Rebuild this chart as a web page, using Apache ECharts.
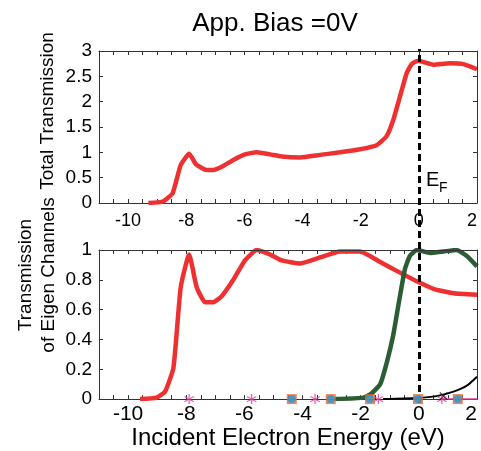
<!DOCTYPE html>
<html>
<head>
<meta charset="utf-8">
<script src="https://cdn.jsdelivr.net/npm/echarts@6/dist/echarts.min.js"></script>
<style>
    html, body { margin: 0; padding: 0; background: #fff; }
    #main { width: 481px; height: 451px; }
</style>
</head>
<body>
<div id="main"></div>
<script>
    // total transmission (top panel)
    var totalE = [-9.3, -8.8, -8.47, -8.19, -7.9, -7.66, -7.35, -7.07, -6.73, -6.38, -5.98, -5.58, -5.12, -4.72, -4.09, -3.4, -2.71, -2.02, -1.45, -1.11, -0.88, -0.65, -0.42, -0.25, -0.02, 0.5, 1.07, 1.53, 2.0];
    var totalT = [0, 0.03, 0.19, 0.75, 0.97, 0.76, 0.66, 0.65, 0.73, 0.85, 0.96, 1.0, 0.96, 0.92, 0.9, 0.95, 1.0, 1.06, 1.14, 1.32, 1.64, 2.1, 2.56, 2.74, 2.81, 2.73, 2.76, 2.74, 2.64];

    // eigen channels (bottom panel)
    var ch1E = [-9.59, -9.02, -8.73, -8.44, -8.19, -7.9, -7.64, -7.35, -7.07, -6.78, -6.38, -5.98, -5.58, -5.12, -4.72, -4.09, -3.4, -2.71, -2.02, -1.33, -0.76, -0.07, 0.5, 1.19, 2.0];
    var ch1T = [0, 0.01, 0.05, 0.21, 0.75, 0.97, 0.75, 0.65, 0.65, 0.69, 0.8, 0.93, 1.0, 0.97, 0.93, 0.91, 0.95, 0.99, 0.99, 0.92, 0.86, 0.79, 0.74, 0.71, 0.7];
    var ch2E = [-2.88, -1.91, -1.62, -1.33, -1.11, -0.88, -0.65, -0.48, -0.31, -0.07, 0.39, 0.85, 1.3, 1.65, 2.0];
    var ch2T = [0, 0.01, 0.04, 0.1, 0.24, 0.43, 0.69, 0.87, 0.96, 1.0, 0.98, 0.99, 1.0, 0.96, 0.89];
    var ch3E = [-1.23, -0.07, 0.61, 1.19, 1.65, 2.0];
    var ch3T = [0, 0.007, 0.02, 0.05, 0.09, 0.15];
    var ch4MarkE = [-7.9, -5.75, -3.57, -1.39, 0.79];
    var ch4LineE = [0.79, 2.0];
    var ch5MarkE = [-4.37, -3.03, -1.68, -0.03, 1.34];
    var crossE = [0.85];
    var crossT = [0.02];
    var fermiE = 0;

    // axis limits
    var eMin = -11, eMax = 2;
    var totalMax = 3, chanMax = 1;

    var font = 'Liberation Sans';
    var axisCol = '#333';

    function pairs(xs, ys) {
        return xs.map(function (x, i) { return [x, ys[i]]; });
    }
    function zeros(xs) {
        return xs.map(function (x) { return [x, 0]; });
    }
    function xLabel(v) {
        return (Math.abs(v - Math.round(v)) < 1e-6 && Math.round(v) % 2 === 0) ? String(Math.round(v)) : '';
    }
    // closes the box on the top and right of a panel
    function frameLines(yTop) {
        return {
            symbol: 'none', silent: true, label: { show: false },
            lineStyle: { color: axisCol, width: 1, type: 'solid' },
            emphasis: { disabled: true },
            data: [{ yAxis: yTop }, { xAxis: eMax }]
        };
    }

    var asterisk = 'path://M-0.6,-5L0.6,-5L0.6,5L-0.6,5Z M-4.7,-2.2L-4.1,-3.2L4.7,2.2L4.1,3.2Z M-4.1,3.2L-4.7,2.2L4.1,-3.2L4.7,-2.2Z';
    var xMark = 'path://M-4,-3.3L-3.3,-4L4,3.3L3.3,4Z M-3.3,4L-4,3.3L3.3,-4L4,-3.3Z';

    function xAxisOf(grid, pos, labels, fontSize, margin) {
        return {
            type: 'value', gridIndex: grid, position: pos, min: eMin, max: eMax, interval: 0.5,
            axisLine: { show: true, onZero: false, lineStyle: { color: axisCol, width: 1 } },
            axisTick: { show: true, inside: true, length: 4, lineStyle: { color: axisCol } },
            splitLine: { show: false },
            axisLabel: { show: labels, formatter: xLabel, color: '#000', fontFamily: font, fontSize: fontSize, margin: margin, alignMaxLabel: 'right' }
        };
    }
    function yAxisOf(grid, pos, max, step, labels) {
        return {
            type: 'value', gridIndex: grid, position: pos, min: 0, max: max, interval: step,
            axisLine: { show: true, onZero: false, lineStyle: { color: axisCol, width: 1 } },
            axisTick: { show: true, inside: true, length: 4, lineStyle: { color: axisCol } },
            splitLine: { show: false },
            axisLabel: { show: labels, color: '#000', fontFamily: font, fontSize: 19, margin: 7, padding: [0, 0, 5, 0] }
        };
    }

    var xAxes = [
        xAxisOf(0, 'bottom', true, 18, 9),
        xAxisOf(0, 'top', false, 18, 8),
        xAxisOf(1, 'bottom', true, 21, 5),
        xAxisOf(1, 'top', false, 18, 8),
        { type: 'value', gridIndex: 2, min: eMin, max: eMax, show: false }
    ];
    xAxes[2].name = 'Incident Electron Energy (eV)';
    xAxes[2].nameLocation = 'middle';
    xAxes[2].nameGap = 24;
    xAxes[2].nameTextStyle = { color: '#000', fontFamily: font, fontSize: 24 };

    var yAxes = [
        yAxisOf(0, 'left', totalMax, 0.5, true),
        yAxisOf(0, 'right', totalMax, 0.5, false),
        yAxisOf(1, 'left', chanMax, 0.2, true),
        yAxisOf(1, 'right', chanMax, 0.2, false),
        { type: 'value', gridIndex: 2, min: 0, max: 1, show: false }
    ];

    var option = {
        backgroundColor: '#fff',
        animation: false,
        grid: [
            { left: 99, top: 51, width: 378, height: 152 },
            { left: 99, top: 250, width: 378, height: 153 },
            { left: 99, top: 49, width: 378, height: 354 }
        ],
        xAxis: xAxes,
        yAxis: yAxes,
        graphic: [
            { type: 'text', x: 275, y: 24, style: { text: 'App. Bias =0V', font: '26px "Liberation Sans"', fill: '#000', align: 'center', verticalAlign: 'middle' } },
            { type: 'text', x: 48, y: 111, rotation: Math.PI / 2, style: { text: 'Total Transmission', font: '19px "Liberation Sans"', fill: '#000', align: 'center', verticalAlign: 'middle' } },
            { type: 'text', x: 37, y: 275, rotation: Math.PI / 2, style: { text: 'Transmission\nof Eigen Channels', font: '19px "Liberation Sans"', lineHeight: 23, fill: '#000', align: 'center', verticalAlign: 'middle' } },
            { type: 'text', x: 426, y: 180, style: { text: 'E', font: '20px "Liberation Sans"', fill: '#000', align: 'left', verticalAlign: 'middle' } },
            { type: 'text', x: 439, y: 188, style: { text: 'F', font: '14px "Liberation Sans"', fill: '#000', align: 'left', verticalAlign: 'middle' } }
        ],
        series: [
            {
                name: 'total', type: 'line', xAxisIndex: 0, yAxisIndex: 0, data: pairs(totalE, totalT),
                showSymbol: false, smooth: 0.15, lineStyle: { color: '#ee3030', width: 4.5 }, z: 3,
                markLine: frameLines(totalMax)
            },
            {
                name: 'ch1', type: 'line', xAxisIndex: 2, yAxisIndex: 2, data: pairs(ch1E, ch1T),
                showSymbol: false, smooth: 0.15, lineStyle: { color: '#ee3030', width: 4.5 }, z: 3,
                markLine: frameLines(chanMax)
            },
            {
                name: 'ch2', type: 'line', xAxisIndex: 2, yAxisIndex: 2, data: pairs(ch2E, ch2T),
                showSymbol: false, smooth: 0.15, lineStyle: { color: '#2b5c34', width: 4.5 }, z: 4
            },
            {
                name: 'ch3', type: 'line', xAxisIndex: 2, yAxisIndex: 2, data: pairs(ch3E, ch3T),
                showSymbol: false, smooth: 0.2, lineStyle: { color: '#000', width: 2 }, z: 4
            },
            {
                name: 'ch4 line', type: 'line', xAxisIndex: 2, yAxisIndex: 2, data: zeros(ch4LineE),
                showSymbol: false, lineStyle: { color: '#e0409a', width: 1.5 }, z: 5
            },
            {
                name: 'ch4', type: 'scatter', xAxisIndex: 2, yAxisIndex: 2, data: zeros(ch4MarkE),
                symbol: asterisk, symbolSize: 10, itemStyle: { color: '#e0409a' }, clip: false, z: 6
            },
            {
                name: 'ch5 sq', type: 'scatter', xAxisIndex: 2, yAxisIndex: 2, data: zeros(ch5MarkE),
                symbol: 'rect', symbolSize: 10, itemStyle: { color: '#e8662a' }, clip: false, z: 6
            },
            {
                name: 'ch5', type: 'scatter', xAxisIndex: 2, yAxisIndex: 2, data: zeros(ch5MarkE),
                symbol: 'circle', symbolSize: 8, itemStyle: { color: '#2a9ad8' }, clip: false, z: 7
            },
            {
                name: 'cross', type: 'scatter', xAxisIndex: 2, yAxisIndex: 2, data: pairs(crossE, crossT),
                symbol: xMark, symbolSize: 8, itemStyle: { color: '#000' }, clip: false, z: 6
            },
            {
                name: 'fermi', type: 'line', xAxisIndex: 4, yAxisIndex: 4, data: [],
                markLine: {
                    symbol: 'none', silent: true, label: { show: false },
                    lineStyle: { color: '#000', width: 3, type: [7, 4] },
                    data: [{ xAxis: fermiE }]
                },
                z: 8
            }
        ]
    };

    var myChart = echarts.init(document.getElementById('main'));
    myChart.setOption(option);
</script>
</body>
</html>
